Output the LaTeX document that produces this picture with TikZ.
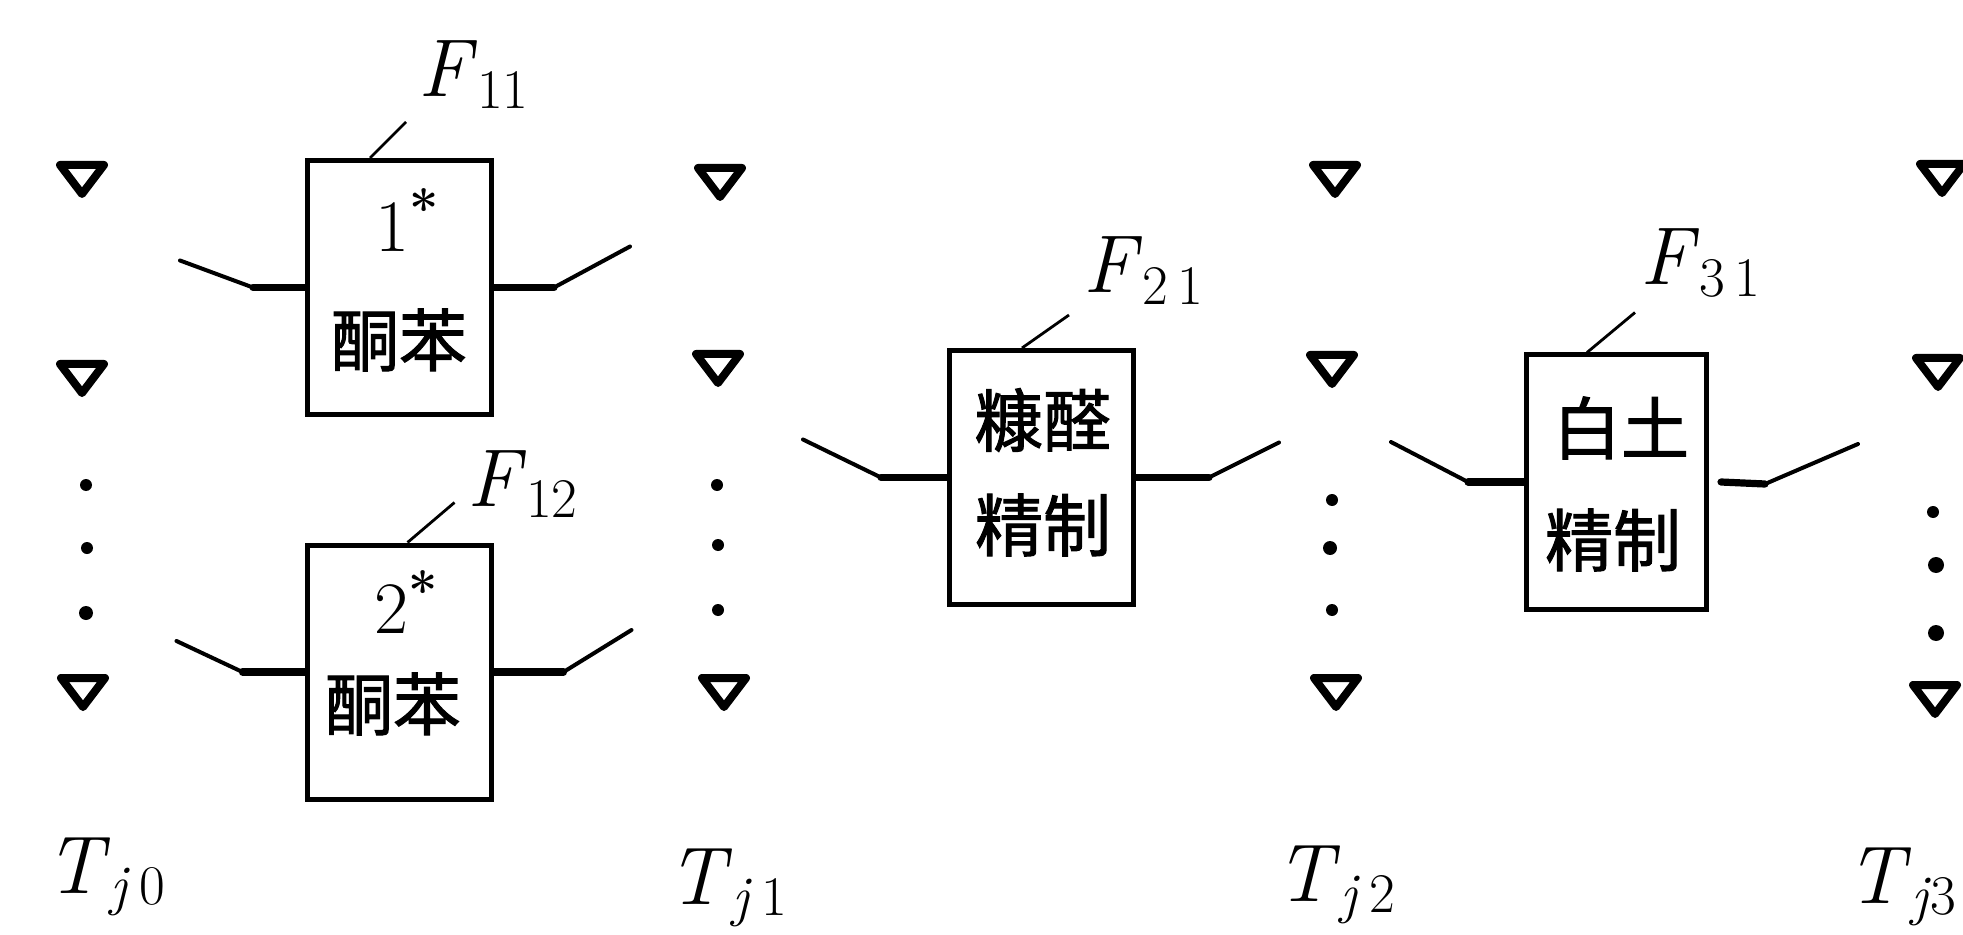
\documentclass[tikz,border=0pt]{standalone}
\usepackage{fontspec}
\newfontfamily\cjk[FakeBold=1.5]{Noto Sans CJK SC}
\newcommand{\sublbl}[2]{\textit{#1}\raisebox{-0.14em}{\fontsize{28}{30}\selectfont #2}}
\newcommand{\starnum}[1]{#1\raisebox{0.32em}{\fontsize{26}{28}\selectfont\bfseries *}}
\begin{document}
\begin{tikzpicture}[x=0.5pt,y=-0.5pt,
  box/.style={draw, line width=2.5pt, minimum width=92pt, minimum height=127pt, inner sep=0pt},
  cjktxt/.style={font=\cjk\fontsize{34}{40}\selectfont, inner sep=0pt},
  numtxt/.style={font=\fontsize{37}{44}\selectfont, inner sep=0pt},
  lbl/.style={font=\fontsize{41}{49}\selectfont, inner sep=0pt, anchor=base west},
  thinln/.style={line width=2pt, line cap=round},
  thickln/.style={line width=3.6pt, line cap=round},
  leader/.style={line width=1.4pt},
  tri/.pic={\draw[line width=4pt, line join=round] (-22,-15) -- (22,-15) -- (0,14) -- cycle;},
  dotmark/.style={fill=black}
]
\useasboundingbox (0,0) rectangle (1963,935);

% ---- boxes ----
\node[box] (F11) at (399.5,287.5) {};
\node[box] (F12) at (399,672) {};
\node[box] (F21) at (1041.5,477.5) {};
\node[box, minimum width=90pt] (F31) at (1616.5,482) {};

% ---- box texts ----
\node[numtxt] (F11a) at (407,220) {\starnum{1}};
\node[cjktxt] (F11b) at (399,340) {酮苯};
\node[numtxt] (F12a) at (406,602) {\starnum{2}};
\node[cjktxt] (F12b) at (393,704) {酮苯};
\node[cjktxt] (F21a) at (1043,420) {糠醛};
\node[cjktxt] (F21b) at (1043,525) {精制};
\node[cjktxt] (F31a) at (1621,428) {白土};
\node[cjktxt] (F31b) at (1613,540) {精制};

% ---- labels ----
\node[lbl] (L11) at (418,97) {\sublbl{F}{11}};
\node[lbl] (L12) at (467,506) {\sublbl{F}{12}};
\node[lbl] (L21) at (1083,293) {\sublbl{F}{2\,1}};
\node[lbl] (L31) at (1640,285) {\sublbl{F}{3\,1}};

\node[lbl] (T0) at (45,893) {\sublbl{T}{\textit{j}\,0}};
\node[lbl] (T1) at (667,904) {\sublbl{T}{\textit{j}\,1}};
\node[lbl] (T2) at (1275,901) {\sublbl{T}{\textit{j}\,2}};
\node[lbl] (T3) at (1846,903) {\sublbl{T}{\textit{j}3}};

% ---- leaders ----
\draw[leader] (F11.north west) ++(65,0) -- ++(36,-36);
\draw[leader] (F12.north west) ++(103,0) -- ++(47,-40);
\draw[leader] (F21.north west) ++(75,0) -- ++(47,-33);
\draw[leader] (F31.north west) ++(63,0) -- ++(48,-40);

% ---- connectors ----
\draw[thickln] (F11.west) -- ++(-52,0) coordinate (F11L);
\draw[thinln] (F11L) -- ++(-73,-27) coordinate (F11Le);
\draw[thickln] (F11.east) -- ++(60,0) coordinate (F11R);
\draw[thinln] (F11R) -- ++(76,-41) coordinate (F11Re);

\draw[thickln] (F12.west) -- ++(-62,0) coordinate (F12L);
\draw[thinln] (F12L) -- ++(-66,-31) coordinate (F12Le);
\draw[thickln] (F12.east) -- ++(70,0) coordinate (F12R);
\draw[thinln] (F12R) -- ++(68,-42) coordinate (F12Re);

\draw[thickln] (F21.west) -- ++(-66,0) coordinate (F21L);
\draw[thinln] (F21L) -- ++(-78,-38) coordinate (F21Le);
\draw[thickln] (F21.east) -- ++(73,0) coordinate (F21R);
\draw[thinln] (F21R) -- ++(70,-35) coordinate (F21Re);

\draw[thickln] (F31.west) -- ++(-56,0) coordinate (F31L);
\draw[thinln] (F31L) -- ++(-77,-40) coordinate (F31Le);
\draw[thickln] (F31.east) ++(12,0) -- ++(44,2) coordinate (F31R);
\draw[thinln] (F31R) -- ++(93,-40) coordinate (F31Re);

% ---- level markers (triangles and dots) ----
\pic at (82,180) {tri};
\pic at (82,379) {tri};
\fill[dotmark] (86,485) circle (6);
\fill[dotmark] (87,548) circle (6);
\fill[dotmark] (86,613) circle (7);
\pic at (83,693) {tri};

\pic at (720,183) {tri};
\pic at (718,369) {tri};
\fill[dotmark] (717,485) circle (6);
\fill[dotmark] (718,545) circle (6);
\fill[dotmark] (718,610) circle (6);
\pic at (724,693) {tri};

\pic at (1335,180) {tri};
\pic at (1332,370) {tri};
\fill[dotmark] (1332,500) circle (6);
\fill[dotmark] (1330,548) circle (7);
\fill[dotmark] (1332,610) circle (6);
\pic at (1336,693) {tri};

\pic at (1942,179) {tri};
\pic at (1938,373) {tri};
\fill[dotmark] (1933,512) circle (6);
\fill[dotmark] (1936,565) circle (8);
\fill[dotmark] (1936,633) circle (8);
\pic at (1935,700) {tri};
\end{tikzpicture}
\end{document}
